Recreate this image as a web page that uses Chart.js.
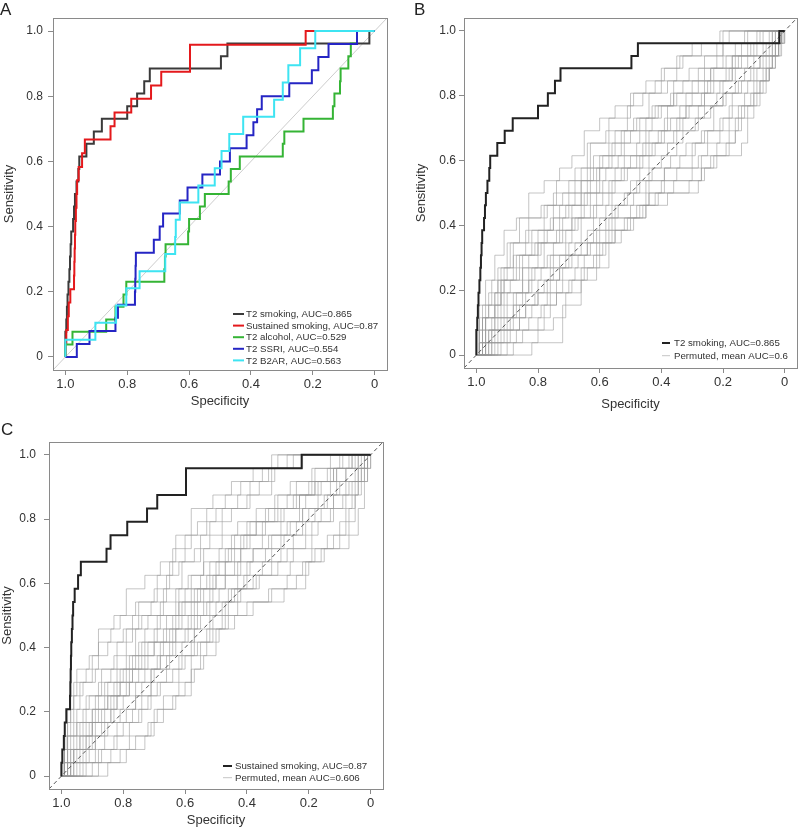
<!DOCTYPE html>
<html>
<head>
<meta charset="utf-8">
<script src="https://cdn.jsdelivr.net/npm/chart.js@4.4.1/dist/chart.umd.min.js"></script>
<style>
  body { margin: 0; background: #fff; }
  #wrap { position: relative; width: 800px; height: 828px; font-family: "Liberation Sans", Arial, sans-serif; }
  canvas { position: absolute; }
  .tag { position: absolute; font-size: 17px; line-height: 17px; color: #222; }
</style>
</head>
<body>
<div id="wrap">
  <canvas id="chartA" width="400" height="412" style="left:0;top:0"></canvas>
  <canvas id="chartB" width="400" height="415" style="left:400px;top:0"></canvas>
  <canvas id="chartC" width="400" height="408" style="left:0;top:420px"></canvas>
  <div class="tag" style="left:0;top:1px">A</div>
  <div class="tag" style="left:414px;top:1px">B</div>
  <div class="tag" style="left:1px;top:421px">C</div>
</div>
<script>
// axis ticks shared by all three panels
const tickValues = [0, 0.2, 0.4, 0.6, 0.8, 1.0];
const tickLabels = ['0', '0.2', '0.4', '0.6', '0.8', '1.0'];

// chance line (runs corner to corner of the padded plot box)
const chanceSpec = [1.04, -0.04];
const chanceSens = [-0.04, 1.04];

// T2 smoking
const smokingSpec = [1, 1.0, 0.997, 0.995, 0.993, 0.99, 0.987, 0.985, 0.983, 0.981, 0.975, 0.972, 0.969, 0.964, 0.958, 0.955, 0.932, 0.908, 0.882, 0.80, 0.768, 0.745, 0.727, 0.497, 0.476, 0.017, 0];
const smokingSens = [0, 0.077, 0.115, 0.154, 0.192, 0.231, 0.269, 0.308, 0.346, 0.385, 0.423, 0.462, 0.5, 0.538, 0.577, 0.615, 0.654, 0.692, 0.731, 0.769, 0.808, 0.846, 0.885, 0.923, 0.962, 1.0, 1.0];

// Sustained smoking
const sustainedSpec = [1, 1.0, 0.997, 0.992, 0.989, 0.984, 0.972, 0.971, 0.97, 0.969, 0.968, 0.966, 0.964, 0.962, 0.957, 0.946, 0.937, 0.854, 0.841, 0.787, 0.723, 0.69, 0.597, 0.223, 0];
const sustainedSens = [0, 0.042, 0.083, 0.125, 0.167, 0.208, 0.25, 0.292, 0.333, 0.375, 0.417, 0.458, 0.5, 0.542, 0.583, 0.625, 0.667, 0.708, 0.75, 0.792, 0.833, 0.875, 0.958, 1.0, 1.0];

// T2 alcohol
const alcoholSpec = [1, 1.0, 0.977, 0.868, 0.838, 0.812, 0.803, 0.68, 0.678, 0.676, 0.603, 0.6, 0.565, 0.549, 0.472, 0.465, 0.436, 0.297, 0.292, 0.23, 0.135, 0.13, 0.112, 0.11, 0.085, 0.077, 0.057, 0];
const alcoholSens = [0, 0.038, 0.077, 0.115, 0.154, 0.192, 0.231, 0.269, 0.308, 0.346, 0.385, 0.423, 0.462, 0.5, 0.538, 0.577, 0.615, 0.654, 0.692, 0.731, 0.769, 0.808, 0.846, 0.885, 0.923, 0.962, 1.0, 1.0];

// T2 SSRI
const ssriSpec = [1, 0.963, 0.922, 0.838, 0.83, 0.775, 0.774, 0.773, 0.772, 0.714, 0.695, 0.684, 0.63, 0.605, 0.557, 0.5, 0.468, 0.414, 0.392, 0.38, 0.365, 0.276, 0.203, 0.182, 0.149, 0.057, 0];
const ssriSens = [0, 0.04, 0.08, 0.12, 0.16, 0.2, 0.24, 0.28, 0.32, 0.36, 0.4, 0.44, 0.48, 0.52, 0.56, 0.6, 0.64, 0.68, 0.72, 0.76, 0.8, 0.84, 0.88, 0.92, 0.96, 1.0, 1.0];

// T2 B2AR
const b2arSpec = [1, 1.0, 0.903, 0.836, 0.803, 0.76, 0.677, 0.645, 0.643, 0.63, 0.57, 0.517, 0.495, 0.47, 0.425, 0.325, 0.297, 0.279, 0.241, 0.192, 0];
const b2arSens = [0, 0.053, 0.105, 0.158, 0.211, 0.263, 0.316, 0.368, 0.421, 0.474, 0.526, 0.579, 0.632, 0.684, 0.737, 0.789, 0.842, 0.895, 0.947, 1.0, 1.0];

// permuted curves for panel B, [specificity, sensitivity] corners
const permutedB = [
  [[1,0],[0.97,0.115],[0.93,0.231],[0.90,0.346],[0.82,0.385],[0.75,0.5],[0.70,0.538],[0.64,0.654],[0.57,0.731],[0.50,0.808],[0.42,0.846],[0.35,0.923],[0.2,1],[0,1]],
  [[1,0],[0.82,0.038],[0.72,0.154],[0.66,0.269],[0.60,0.346],[0.55,0.423],[0.45,0.5],[0.28,0.538],[0.27,0.615],[0.14,0.654],[0.12,0.769],[0.08,0.846],[0.05,0.923],[0.02,1],[0,1]],
  [[1,0],[0.95,0.077],[0.88,0.154],[0.80,0.192],[0.76,0.269],[0.70,0.308],[0.64,0.385],[0.58,0.462],[0.52,0.5],[0.47,0.577],[0.40,0.615],[0.35,0.692],[0.28,0.769],[0.22,0.808],[0.16,0.885],[0.10,0.923],[0.05,0.962],[0.02,1],[0,1]],
  [[1,0],[0.98,0.077],[0.92,0.192],[0.85,0.269],[0.80,0.346],[0.72,0.423],[0.66,0.5],[0.60,0.577],[0.52,0.615],[0.45,0.692],[0.38,0.769],[0.30,0.808],[0.24,0.885],[0.15,0.923],[0.10,0.962],[0.04,1],[0,1]],
  [[1,0],[0.96,0.038],[0.90,0.115],[0.84,0.192],[0.78,0.231],[0.73,0.308],[0.68,0.346],[0.62,0.423],[0.56,0.5],[0.50,0.538],[0.44,0.615],[0.38,0.654],[0.33,0.731],[0.26,0.769],[0.20,0.846],[0.13,0.885],[0.08,0.923],[0.03,0.962],[0.01,1],[0,1]],
  [[1,0],[0.98,0.154],[0.95,0.231],[0.88,0.308],[0.84,0.385],[0.78,0.462],[0.70,0.5],[0.66,0.577],[0.60,0.615],[0.55,0.692],[0.48,0.731],[0.40,0.769],[0.36,0.846],[0.28,0.885],[0.22,0.962],[0.12,1],[0,1]],
  [[1,0],[0.90,0.038],[0.85,0.077],[0.78,0.154],[0.74,0.231],[0.68,0.269],[0.62,0.308],[0.58,0.385],[0.52,0.423],[0.48,0.462],[0.42,0.5],[0.36,0.538],[0.30,0.577],[0.24,0.615],[0.18,0.692],[0.15,0.731],[0.10,0.808],[0.07,0.885],[0.04,0.923],[0.02,0.962],[0,1]],
  [[1,0],[0.99,0.038],[0.94,0.154],[0.91,0.231],[0.86,0.308],[0.79,0.346],[0.74,0.385],[0.69,0.462],[0.64,0.538],[0.58,0.577],[0.54,0.615],[0.48,0.654],[0.44,0.692],[0.37,0.731],[0.32,0.808],[0.25,0.846],[0.18,0.885],[0.12,0.923],[0.06,0.962],[0.03,1],[0,1]],
  [[1,0],[0.97,0.077],[0.93,0.115],[0.87,0.192],[0.82,0.269],[0.77,0.308],[0.71,0.385],[0.67,0.423],[0.62,0.462],[0.57,0.538],[0.53,0.577],[0.46,0.654],[0.41,0.692],[0.34,0.769],[0.27,0.808],[0.21,0.846],[0.17,0.923],[0.09,0.962],[0.05,1],[0,1]],
  [[1,0],[0.99,0.115],[0.96,0.192],[0.93,0.269],[0.89,0.346],[0.86,0.423],[0.79,0.462],[0.74,0.538],[0.68,0.577],[0.63,0.654],[0.58,0.692],[0.51,0.769],[0.46,0.808],[0.40,0.885],[0.33,0.923],[0.27,0.962],[0.18,1],[0,1]],
  [[1,0],[0.94,0.038],[0.87,0.077],[0.80,0.115],[0.76,0.192],[0.70,0.231],[0.65,0.308],[0.59,0.346],[0.56,0.423],[0.50,0.462],[0.44,0.538],[0.27,0.577],[0.22,0.654],[0.16,0.692],[0.14,0.769],[0.10,0.846],[0.06,0.885],[0.04,0.962],[0.01,1],[0,1]],
  [[1,0],[0.98,0.038],[0.95,0.115],[0.90,0.192],[0.83,0.231],[0.79,0.269],[0.75,0.346],[0.69,0.423],[0.63,0.5],[0.59,0.538],[0.55,0.577],[0.50,0.615],[0.43,0.654],[0.39,0.731],[0.31,0.769],[0.26,0.846],[0.19,0.923],[0.14,0.962],[0.07,1],[0,1]],
  [[1,0],[0.99,0.077],[0.97,0.154],[0.92,0.231],[0.87,0.269],[0.83,0.308],[0.80,0.385],[0.76,0.423],[0.71,0.462],[0.65,0.5],[0.61,0.577],[0.56,0.654],[0.52,0.692],[0.47,0.731],[0.42,0.769],[0.36,0.808],[0.30,0.846],[0.23,0.885],[0.16,0.923],[0.11,0.962],[0.04,1],[0,1]],
  [[1,0],[0.93,0.077],[0.86,0.115],[0.82,0.154],[0.77,0.192],[0.72,0.269],[0.67,0.308],[0.63,0.346],[0.57,0.385],[0.51,0.423],[0.46,0.462],[0.41,0.5],[0.39,0.577],[0.30,0.654],[0.25,0.692],[0.20,0.731],[0.17,0.808],[0.12,0.846],[0.09,0.885],[0.07,0.923],[0.03,0.962],[0.01,1],[0,1]],
  [[1,0],[0.99,0.038],[0.96,0.077],[0.91,0.154],[0.85,0.231],[0.81,0.269],[0.76,0.308],[0.70,0.346],[0.66,0.423],[0.61,0.5],[0.56,0.538],[0.51,0.577],[0.47,0.615],[0.42,0.654],[0.36,0.692],[0.29,0.731],[0.24,0.769],[0.20,0.808],[0.15,0.846],[0.11,0.885],[0.08,0.923],[0.04,0.962],[0.02,1],[0,1]],
  [[1,0],[0.995,0.077],[0.98,0.115],[0.96,0.154],[0.92,0.269],[0.88,0.346],[0.83,0.423],[0.77,0.462],[0.72,0.5],[0.68,0.538],[0.62,0.615],[0.57,0.654],[0.53,0.692],[0.49,0.731],[0.44,0.808],[0.38,0.846],[0.31,0.885],[0.26,0.923],[0.20,0.962],[0.13,1],[0,1]],
  [[1,0],[0.97,0.038],[0.92,0.077],[0.89,0.115],[0.84,0.154],[0.80,0.231],[0.75,0.269],[0.71,0.308],[0.66,0.346],[0.61,0.385],[0.57,0.423],[0.54,0.462],[0.49,0.5],[0.45,0.538],[0.39,0.577],[0.34,0.615],[0.29,0.654],[0.26,0.692],[0.21,0.731],[0.18,0.769],[0.13,0.808],[0.09,0.846],[0.06,0.885],[0.03,0.923],[0.015,0.962],[0.005,1],[0,1]],
  [[1,0],[0.98,0.115],[0.94,0.192],[0.89,0.231],[0.85,0.308],[0.81,0.346],[0.77,0.385],[0.73,0.462],[0.68,0.5],[0.63,0.577],[0.59,0.615],[0.52,0.654],[0.47,0.692],[0.43,0.769],[0.37,0.808],[0.33,0.846],[0.26,0.885],[0.20,0.923],[0.16,0.962],[0.09,1],[0,1]],
  [[1,0],[0.88,0.038],[0.80,0.077],[0.75,0.115],[0.71,0.192],[0.66,0.231],[0.61,0.269],[0.57,0.346],[0.53,0.385],[0.49,0.423],[0.45,0.462],[0.38,0.5],[0.31,0.538],[0.26,0.577],[0.23,0.615],[0.19,0.654],[0.16,0.731],[0.13,0.769],[0.09,0.808],[0.06,0.846],[0.05,0.885],[0.03,0.923],[0.02,0.962],[0.01,1],[0,1]],
  [[1,0],[0.99,0.038],[0.97,0.115],[0.94,0.192],[0.91,0.269],[0.87,0.308],[0.82,0.346],[0.78,0.385],[0.75,0.423],[0.70,0.462],[0.66,0.538],[0.60,0.577],[0.57,0.615],[0.53,0.654],[0.50,0.692],[0.45,0.731],[0.41,0.769],[0.35,0.808],[0.28,0.846],[0.24,0.885],[0.17,0.923],[0.12,0.962],[0.08,1],[0,1]],
  [[1,0],[0.95,0.038],[0.91,0.077],[0.86,0.154],[0.81,0.192],[0.77,0.231],[0.73,0.269],[0.69,0.308],[0.64,0.346],[0.60,0.423],[0.55,0.462],[0.51,0.5],[0.48,0.538],[0.43,0.577],[0.37,0.615],[0.32,0.654],[0.27,0.692],[0.23,0.769],[0.19,0.808],[0.14,0.846],[0.10,0.885],[0.06,0.923],[0.03,0.962],[0.02,1],[0,1]],
  [[1,0],[0.99,0.154],[0.97,0.231],[0.94,0.308],[0.91,0.385],[0.87,0.423],[0.83,0.5],[0.78,0.538],[0.73,0.577],[0.69,0.615],[0.65,0.692],[0.60,0.731],[0.55,0.769],[0.49,0.808],[0.45,0.846],[0.39,0.885],[0.34,0.923],[0.30,0.962],[0.21,1],[0,1]],
  [[1,0],[0.96,0.077],[0.94,0.115],[0.88,0.192],[0.83,0.269],[0.78,0.346],[0.73,0.385],[0.68,0.423],[0.65,0.462],[0.59,0.5],[0.55,0.538],[0.52,0.577],[0.48,0.615],[0.44,0.654],[0.40,0.692],[0.35,0.731],[0.32,0.769],[0.26,0.808],[0.23,0.846],[0.17,0.885],[0.14,0.923],[0.07,0.962],[0.03,1],[0,1]],
  [[1,0],[0.92,0.038],[0.89,0.077],[0.83,0.115],[0.79,0.154],[0.74,0.192],[0.69,0.231],[0.64,0.269],[0.61,0.346],[0.55,0.385],[0.50,0.423],[0.47,0.462],[0.44,0.5],[0.40,0.538],[0.35,0.577],[0.28,0.615],[0.25,0.654],[0.21,0.692],[0.18,0.731],[0.15,0.769],[0.11,0.808],[0.08,0.846],[0.05,0.885],[0.04,0.923],[0.01,0.962],[0,1]]
];

// permuted curves for panel C
const permutedC = [
  [[1,0],[0.99,0.083],[0.98,0.167],[0.96,0.25],[0.93,0.292],[0.89,0.333],[0.83,0.375],[0.79,0.458],[0.74,0.5],[0.67,0.583],[0.61,0.667],[0.55,0.75],[0.48,0.833],[0.40,0.875],[0.32,0.958],[0.30,1],[0,1]],
  [[1,0],[0.85,0.042],[0.79,0.083],[0.73,0.125],[0.70,0.208],[0.63,0.25],[0.58,0.333],[0.55,0.417],[0.51,0.5],[0.46,0.542],[0.28,0.583],[0.21,0.667],[0.16,0.708],[0.07,0.75],[0.04,0.833],[0.02,0.917],[0.01,1],[0,1]],
  [[1,0],[0.96,0.042],[0.92,0.125],[0.86,0.167],[0.81,0.208],[0.76,0.25],[0.71,0.333],[0.66,0.375],[0.61,0.417],[0.57,0.5],[0.52,0.542],[0.46,0.583],[0.40,0.667],[0.34,0.708],[0.28,0.75],[0.22,0.833],[0.15,0.875],[0.10,0.917],[0.05,0.958],[0.02,1],[0,1]],
  [[1,0],[0.98,0.083],[0.94,0.167],[0.89,0.208],[0.85,0.292],[0.80,0.333],[0.75,0.417],[0.70,0.458],[0.64,0.5],[0.60,0.583],[0.55,0.625],[0.49,0.667],[0.44,0.75],[0.37,0.792],[0.31,0.833],[0.25,0.875],[0.18,0.917],[0.12,0.958],[0.06,1],[0,1]],
  [[1,0],[0.93,0.042],[0.88,0.083],[0.82,0.167],[0.77,0.208],[0.72,0.25],[0.68,0.292],[0.62,0.375],[0.58,0.417],[0.53,0.458],[0.48,0.5],[0.43,0.583],[0.37,0.625],[0.30,0.667],[0.25,0.708],[0.19,0.792],[0.13,0.833],[0.09,0.875],[0.05,0.917],[0.03,0.958],[0.01,1],[0,1]],
  [[1,0],[0.99,0.042],[0.97,0.125],[0.95,0.208],[0.91,0.25],[0.87,0.333],[0.82,0.417],[0.77,0.5],[0.71,0.542],[0.66,0.625],[0.62,0.667],[0.57,0.708],[0.52,0.792],[0.45,0.833],[0.39,0.917],[0.31,0.958],[0.22,1],[0,1]],
  [[1,0],[0.90,0.042],[0.84,0.083],[0.78,0.125],[0.72,0.167],[0.69,0.208],[0.64,0.25],[0.60,0.292],[0.57,0.333],[0.54,0.375],[0.50,0.458],[0.46,0.5],[0.40,0.542],[0.32,0.583],[0.24,0.625],[0.20,0.667],[0.15,0.708],[0.10,0.75],[0.07,0.792],[0.05,0.875],[0.03,0.917],[0.02,0.958],[0,1]],
  [[1,0],[0.99,0.125],[0.96,0.167],[0.92,0.25],[0.88,0.292],[0.84,0.333],[0.78,0.375],[0.74,0.417],[0.69,0.5],[0.63,0.542],[0.58,0.583],[0.53,0.625],[0.47,0.708],[0.41,0.75],[0.35,0.792],[0.28,0.833],[0.21,0.875],[0.16,0.917],[0.08,0.958],[0.04,1],[0,1]],
  [[1,0],[0.97,0.083],[0.91,0.125],[0.87,0.167],[0.83,0.25],[0.78,0.292],[0.73,0.333],[0.69,0.375],[0.64,0.458],[0.59,0.5],[0.54,0.583],[0.50,0.625],[0.44,0.667],[0.38,0.708],[0.33,0.75],[0.26,0.792],[0.20,0.833],[0.14,0.875],[0.11,0.958],[0.03,1],[0,1]],
  [[1,0],[0.98,0.208],[0.96,0.292],[0.92,0.333],[0.88,0.417],[0.84,0.458],[0.81,0.5],[0.76,0.542],[0.70,0.583],[0.65,0.667],[0.60,0.75],[0.56,0.792],[0.50,0.833],[0.43,0.875],[0.36,0.917],[0.33,0.958],[0.25,1],[0,1]],
  [[1,0],[0.95,0.083],[0.90,0.167],[0.84,0.208],[0.80,0.25],[0.74,0.292],[0.70,0.333],[0.65,0.417],[0.60,0.458],[0.56,0.542],[0.51,0.583],[0.47,0.625],[0.42,0.708],[0.35,0.75],[0.29,0.792],[0.23,0.875],[0.17,0.917],[0.13,0.958],[0.06,1],[0,1]],
  [[1,0],[0.97,0.042],[0.91,0.083],[0.86,0.125],[0.80,0.167],[0.75,0.208],[0.71,0.292],[0.66,0.333],[0.60,0.375],[0.56,0.417],[0.52,0.458],[0.47,0.542],[0.42,0.583],[0.36,0.625],[0.26,0.667],[0.18,0.708],[0.12,0.75],[0.08,0.833],[0.06,0.875],[0.04,0.917],[0.02,0.958],[0.01,1],[0,1]],
  [[1,0],[0.99,0.083],[0.95,0.125],[0.90,0.208],[0.86,0.25],[0.81,0.292],[0.77,0.375],[0.72,0.417],[0.67,0.458],[0.62,0.542],[0.57,0.583],[0.52,0.667],[0.46,0.708],[0.40,0.792],[0.33,0.833],[0.27,0.875],[0.20,0.917],[0.14,0.958],[0.09,1],[0,1]],
  [[1,0],[0.98,0.042],[0.93,0.083],[0.89,0.167],[0.84,0.25],[0.79,0.292],[0.75,0.333],[0.68,0.417],[0.63,0.458],[0.58,0.5],[0.53,0.542],[0.49,0.583],[0.43,0.625],[0.39,0.667],[0.32,0.708],[0.29,0.75],[0.24,0.792],[0.18,0.833],[0.12,0.875],[0.07,0.917],[0.04,0.958],[0.02,1],[0,1]],
  [[1,0],[0.99,0.042],[0.96,0.083],[0.93,0.167],[0.88,0.25],[0.83,0.292],[0.79,0.333],[0.74,0.375],[0.70,0.417],[0.66,0.5],[0.61,0.542],[0.56,0.583],[0.51,0.625],[0.47,0.667],[0.42,0.75],[0.37,0.792],[0.30,0.833],[0.24,0.875],[0.19,0.917],[0.12,0.958],[0.05,1],[0,1]],
  [[1,0],[0.995,0.083],[0.985,0.125],[0.97,0.208],[0.94,0.292],[0.90,0.375],[0.85,0.417],[0.80,0.458],[0.75,0.542],[0.69,0.625],[0.64,0.708],[0.58,0.75],[0.53,0.833],[0.47,0.875],[0.42,0.917],[0.35,0.958],[0.27,1],[0,1]],
  [[1,0],[0.96,0.083],[0.92,0.167],[0.87,0.208],[0.82,0.292],[0.77,0.333],[0.72,0.375],[0.67,0.417],[0.63,0.5],[0.58,0.542],[0.55,0.583],[0.50,0.667],[0.45,0.708],[0.39,0.75],[0.34,0.792],[0.29,0.833],[0.23,0.875],[0.18,0.917],[0.11,0.958],[0.07,1],[0,1]],
  [[1,0],[0.88,0.042],[0.81,0.083],[0.76,0.125],[0.71,0.167],[0.67,0.25],[0.62,0.292],[0.58,0.375],[0.53,0.417],[0.49,0.458],[0.44,0.5],[0.38,0.542],[0.33,0.583],[0.27,0.625],[0.22,0.667],[0.19,0.708],[0.14,0.75],[0.10,0.792],[0.07,0.833],[0.05,0.875],[0.04,0.917],[0.01,0.958],[0,1]],
  [[1,0],[0.98,0.125],[0.95,0.167],[0.93,0.208],[0.89,0.25],[0.86,0.292],[0.82,0.333],[0.79,0.375],[0.76,0.458],[0.72,0.5],[0.68,0.542],[0.63,0.583],[0.59,0.625],[0.54,0.667],[0.49,0.708],[0.45,0.75],[0.39,0.792],[0.34,0.833],[0.30,0.875],[0.24,0.917],[0.18,0.958],[0.10,1],[0,1]],
  [[1,0],[0.94,0.042],[0.89,0.125],[0.85,0.167],[0.79,0.208],[0.76,0.292],[0.71,0.333],[0.68,0.375],[0.63,0.417],[0.59,0.458],[0.55,0.5],[0.50,0.542],[0.45,0.583],[0.41,0.625],[0.35,0.667],[0.29,0.708],[0.25,0.75],[0.21,0.792],[0.16,0.833],[0.12,0.875],[0.08,0.917],[0.04,0.958],[0.02,1],[0,1]],
  [[1,0],[0.99,0.167],[0.97,0.25],[0.95,0.333],[0.91,0.375],[0.88,0.458],[0.83,0.5],[0.79,0.583],[0.73,0.625],[0.68,0.667],[0.63,0.75],[0.58,0.833],[0.51,0.875],[0.45,0.917],[0.38,0.958],[0.32,1],[0,1]],
  [[1,0],[0.97,0.042],[0.94,0.125],[0.90,0.208],[0.85,0.25],[0.81,0.333],[0.76,0.375],[0.73,0.458],[0.68,0.5],[0.62,0.583],[0.58,0.625],[0.54,0.708],[0.48,0.75],[0.43,0.792],[0.37,0.833],[0.31,0.875],[0.26,0.917],[0.19,0.958],[0.13,1],[0,1]],
  [[1,0],[0.92,0.042],[0.87,0.083],[0.83,0.125],[0.78,0.167],[0.74,0.25],[0.69,0.292],[0.64,0.333],[0.61,0.375],[0.57,0.458],[0.52,0.5],[0.48,0.542],[0.44,0.583],[0.38,0.625],[0.32,0.667],[0.27,0.708],[0.21,0.75],[0.17,0.792],[0.12,0.833],[0.08,0.875],[0.06,0.917],[0.03,0.958],[0.01,1],[0,1]],
  [[1,0],[0.99,0.042],[0.96,0.125],[0.91,0.167],[0.86,0.208],[0.82,0.25],[0.78,0.333],[0.73,0.375],[0.70,0.417],[0.65,0.458],[0.61,0.5],[0.57,0.542],[0.52,0.583],[0.47,0.625],[0.43,0.667],[0.38,0.708],[0.32,0.75],[0.27,0.792],[0.22,0.833],[0.17,0.875],[0.13,0.917],[0.08,0.958],[0.04,1],[0,1]]
];

const FONT = '"Liberation Sans", Arial, sans-serif';
const TEXT = '#333';
const AXIS = '#8a8a8a';
const PERM = 'rgba(150,150,150,0.55)';

Chart.defaults.font.family = FONT;
Chart.defaults.animation = false;

function pts(spec, sens) {
    return spec.map((s, i) => ({ x: s, y: sens[i] }));
}

function rocSet(label, data, color, width, order) {
    return {
        label: label,
        data: data,
        borderColor: color,
        borderWidth: width,
        stepped: 'before',
        showLine: true,
        pointRadius: 0,
        pointHoverRadius: 0,
        fill: false,
        order: order,
        inLegend: true
    };
}

function chanceSet(color, dash) {
    return {
        label: 'chance',
        data: pts(chanceSpec, chanceSens),
        borderColor: color,
        borderWidth: 1,
        borderDash: dash,
        showLine: true,
        pointRadius: 0,
        fill: false,
        order: 8
    };
}

function permutedSets(curves, label) {
    return curves.map((c, i) => ({
        label: label,
        data: c,
        borderColor: PERM,
        borderWidth: 1,
        stepped: 'before',
        showLine: true,
        pointRadius: 0,
        fill: false,
        order: 9,
        inLegend: i === 0
    }));
}

function makeScales(p) {
    const titleFont = { family: FONT, size: 13 };
    return {
        x: {
            type: 'linear', reverse: true, min: -0.04, max: 1.04,
            afterBuildTicks: s => { s.ticks = tickValues.map(v => ({ value: v })); },
            afterFit: s => { s.height = p.xh; },
            grid: { drawOnChartArea: false, tickLength: 5, color: AXIS },
            border: { display: false },
            ticks: { autoSkip: false, maxRotation: 0, padding: 2, color: TEXT, font: { family: FONT, size: 13 },
                     callback: (v, i) => tickLabels[i] },
            title: { display: true, text: 'Specificity', color: TEXT, font: titleFont,
                     padding: { top: 0, bottom: p.xtitle } }
        },
        y: {
            type: 'linear', min: -0.04, max: 1.04,
            afterBuildTicks: s => { s.ticks = tickValues.map(v => ({ value: v })); },
            afterFit: s => { s.width = p.yw; },
            grid: { drawOnChartArea: false, tickLength: 5, color: AXIS },
            border: { display: false },
            ticks: { autoSkip: false, padding: p.ypad, color: TEXT, font: { family: FONT, size: 12 },
                     callback: (v, i) => tickLabels[i] },
            title: { display: true, text: 'Sensitivity', color: TEXT, font: titleFont,
                     padding: { top: p.ytitle, bottom: 0 } }
        }
    };
}

// box round the plot region, like R's box()
const boxFrame = {
    id: 'boxFrame',
    afterDatasetsDraw(chart) {
        const { ctx, chartArea: a } = chart;
        ctx.save();
        ctx.strokeStyle = AXIS;
        ctx.lineWidth = 1;
        ctx.strokeRect(Math.round(a.left) + 0.5, Math.round(a.top) + 0.5,
                       Math.round(a.right - a.left), Math.round(a.bottom - a.top));
        ctx.restore();
    }
};

// legend drawn inside the plot, bottom right
const rocLegend = {
    id: 'rocLegend',
    afterDraw(chart, args, o) {
        const ctx = chart.ctx;
        const items = chart.data.datasets.filter(d => d.inLegend);
        ctx.save();
        ctx.font = o.size + 'px ' + FONT;
        ctx.textBaseline = 'middle';
        items.forEach((d, i) => {
            const y = o.y + i * o.rowH;
            ctx.strokeStyle = d.borderColor;
            ctx.lineWidth = d.borderWidth;
            ctx.beginPath();
            ctx.moveTo(o.x0, y);
            ctx.lineTo(o.x1, y);
            ctx.stroke();
            ctx.fillStyle = TEXT;
            ctx.fillText(d.label, o.tx, y + 0.5);
        });
        ctx.restore();
    }
};

function makeChart(id, datasets, p, legend) {
    return new Chart(document.getElementById(id), {
        type: 'scatter',
        data: { datasets: datasets },
        options: {
            responsive: false,
            animation: false,
            layout: { padding: p.pad },
            plugins: {
                legend: { display: false },
                tooltip: { enabled: false },
                rocLegend: legend
            },
            scales: makeScales(p)
        },
        plugins: [boxFrame, rocLegend]
    });
}

// Panel A
makeChart('chartA', [
    rocSet('T2 smoking, AUC=0.865', pts(smokingSpec, smokingSens), '#3a3a3a', 2, 5),
    rocSet('Sustained smoking, AUC=0.87', pts(sustainedSpec, sustainedSens), '#e4191c', 2, 4),
    rocSet('T2 alcohol, AUC=0.529', pts(alcoholSpec, alcoholSens), '#35b435', 2, 3),
    rocSet('T2 SSRI, AUC=0.554', pts(ssriSpec, ssriSens), '#2525c4', 2, 2),
    rocSet('T2 B2AR, AUC=0.563', pts(b2arSpec, b2arSens), '#3ee4f2', 2, 1),
    chanceSet('#cccccc', [])
], { pad: { left: 0, top: 18, right: 13, bottom: 0 }, yw: 53, xh: 42, ypad: 5, ytitle: 2, xtitle: 3 },
   { size: 9.7, x0: 233, x1: 244, tx: 246, y: 314, rowH: 11.6 });

// Panel B
makeChart('chartB', [
    rocSet('T2 smoking, AUC=0.865', pts(smokingSpec, smokingSens), '#222222', 2, 1),
    ...permutedSets(permutedB, 'Permuted, mean AUC=0.6'),
    chanceSet('#555555', [4, 3])
], { pad: { left: 0, top: 18, right: 3, bottom: 0 }, yw: 64, xh: 47, ypad: 3, ytitle: 14, xtitle: 3 },
   { size: 9.7, x0: 262, x1: 270, tx: 274, y: 343, rowH: 12.7 });

// Panel C
makeChart('chartC', [
    rocSet('Sustained smoking, AUC=0.87', pts(sustainedSpec, sustainedSens), '#222222', 2, 1),
    ...permutedSets(permutedC, 'Permuted, mean AUC=0.606'),
    chanceSet('#555555', [4, 3])
], { pad: { left: 0, top: 22, right: 17, bottom: 0 }, yw: 49, xh: 39, ypad: 8, ytitle: 0, xtitle: 0 },
   { size: 9.7, x0: 223, x1: 232, tx: 235, y: 346, rowH: 11.7 });
</script>
</body>
</html>
